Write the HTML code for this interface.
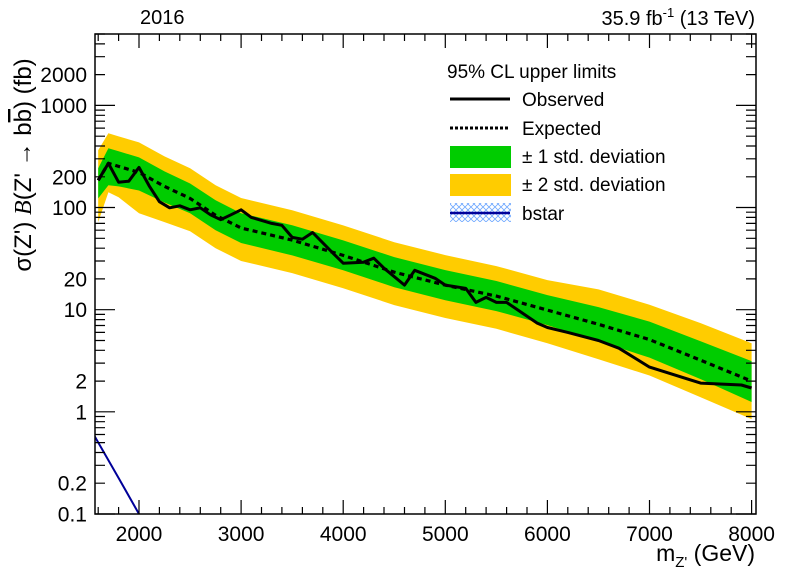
<!DOCTYPE html>
<html><head><meta charset="utf-8"><style>
html,body{margin:0;padding:0;background:#fff;}
svg{display:block;font-family:"Liberation Sans",sans-serif;}
</style></head><body>
<svg id="c" width="796" height="572" viewBox="0 0 796 572">
<defs>
<pattern id="hatch" width="6" height="6" patternUnits="userSpaceOnUse">
<path d="M0,0 L6,6 M6,0 L0,6" stroke="#6fa8ff" stroke-width="0.8"/>
</pattern>
<clipPath id="plotclip"><rect x="95" y="34" width="661" height="480"/></clipPath>
</defs>
<g id="bands" clip-path="url(#plotclip)"></g>
<g id="axes"></g>
<text x="140" y="24" font-size="20">2016</text>
<text x="755" y="25" font-size="20" text-anchor="end">35.9 fb<tspan dy="-8" font-size="13">-1</tspan><tspan dy="8">  (13 TeV)</tspan></text>
<text x="755" y="561" font-size="23" text-anchor="end">m<tspan dy="6" font-size="15">Z'</tspan><tspan dy="-6"> (GeV)</tspan></text>
<text transform="translate(31,165) rotate(-90)" font-size="24" text-anchor="middle">σ(Z')  <tspan font-family="Liberation Serif" font-style="italic">B</tspan>(Z' → b<tspan text-decoration="overline">b</tspan>) (fb)</text>
<g>
<text x="447" y="78" font-size="19">95% CL upper limits</text>
<line x1="450" y1="99" x2="510" y2="99" stroke="#000" stroke-width="3"/>
<text x="522" y="106" font-size="19">Observed</text>
<line x1="450" y1="128" x2="510" y2="128" stroke="#000" stroke-width="3" stroke-dasharray="3,2"/>
<text x="522" y="135" font-size="19">Expected</text>
<rect x="450" y="146" width="61" height="22" fill="#00cc00"/>
<text x="522" y="163" font-size="19">± 1 std. deviation</text>
<rect x="450" y="174" width="61" height="22" fill="#ffcc00"/>
<text x="522" y="191" font-size="19">± 2 std. deviation</text>
<rect x="450" y="203" width="61" height="19" fill="url(#hatch)"/>
<line x1="450" y1="213" x2="510" y2="213" stroke="#000099" stroke-width="2.5"/>
<text x="522" y="220" font-size="19">bstar</text>
</g>
</svg>
<script>
const expMass=[1600,1700,1800,2000,2250,2500,2750,3000,3500,4000,4500,5000,5500,6000,6500,7000,7500,8000];
const expVal=[185,271,253,221,161,123,84,63,48,34,23.3,17.4,13.6,9.9,7.2,5.1,3.2,2.0];
const plus1=[242,380,355,310,226,172,118,88,67,47.7,32.7,24.4,19.1,13.9,10.6,7.65,4.9,3.14];
const minus1=[123,165,161,147,112,88,60,45,34,24.3,16.6,12.4,9.7,7.06,4.9,3.4,2.09,1.25];
const plus2=[364,533,497,434,317,242,165,124,94,66.8,45.8,34.2,26.7,19.5,15.8,11.2,7.4,4.7];
const minus2=[72,141,126,88,72,58.5,40,30,22.8,16.2,11.1,8.3,6.5,4.7,3.27,2.27,1.39,0.85];
const obsMass=[1600,1700,1800,1900,2000,2100,2200,2300,2400,2500,2600,2700,2800,2900,3000,3100,3300,3400,3500,3600,3700,3900,4000,4200,4300,4400,4600,4700,4900,5000,5200,5300,5400,5500,5600,5900,6000,6200,6500,6700,7000,7500,7900,8000];
const obsVal=[185,271,177,181,247,163,114,99.5,104,95,99.5,85,76,85,95,80,70,67,51,49,57,35.7,28.5,29.2,31.9,25.5,17.4,24.3,20.3,17.4,16.2,11.8,13.2,11.8,11.8,7.4,6.7,6.0,5.0,4.2,2.74,1.91,1.83,1.71];
const bstarMass=[1560,1800,2000,2100];
const bstarVal=[0.59,0.225,0.1,0.065];
const xTicks=[2000,3000,4000,5000,6000,7000,8000];
const yTickLabels=["0.1","0.2","1","2","10","20","100","200","1000","2000"];

const X0=95,X1=756,Y0=514,Y1=34,XMIN=1569,XMAX=8043,YMIN=0.1,YMAX=5000;
function sx(m){return X0+(m-XMIN)/(XMAX-XMIN)*(X1-X0);}
function sy(v){return Y0-(Math.log10(v)-Math.log10(YMIN))/(Math.log10(YMAX)-Math.log10(YMIN))*(Y0-Y1);}
const NS="http://www.w3.org/2000/svg";
const bands=document.getElementById('bands'),axes=document.getElementById('axes');
function band(up,dn,col,name){
  let d="";
  expMass.forEach((m,i)=>{d+=(i?"L":"M")+sx(m).toFixed(1)+","+sy(up[i]).toFixed(1);});
  for(let i=expMass.length-1;i>=0;i--)d+="L"+sx(expMass[i]).toFixed(1)+","+sy(dn[i]).toFixed(1);
  const p=document.createElementNS(NS,'path');p.setAttribute('d',d+"Z");p.setAttribute('fill',col);
  
  
  bands.appendChild(p);
}
function line(ms,vs,col,w,dash,name){
  const p=document.createElementNS(NS,'polyline');
  p.setAttribute('points',ms.map((m,i)=>sx(m).toFixed(1)+","+sy(vs[i]).toFixed(1)).join(" "));
  p.setAttribute('fill','none');p.setAttribute('stroke',col);p.setAttribute('stroke-width',w);
  p.setAttribute('stroke-linejoin','round');
  if(dash)p.setAttribute('stroke-dasharray',dash);
  
  
  bands.appendChild(p);
}
band(plus2,minus2,'#ffcc00','band-2sigma');
band(plus1,minus1,'#00cc00','band-1sigma');
line(expMass,expVal,'#000',3.2,'5,4','expected-line');
line(obsMass,obsVal,'#000',3,null,'observed-line');
line(bstarMass,bstarVal,'#000099',2,null,'bstar-line');

function add(tag,attrs,parent){const e=document.createElementNS(NS,tag);for(const k in attrs)e.setAttribute(k,attrs[k]);(parent||axes).appendChild(e);return e;}
const frame=add('rect',{x:X0,y:Y1,width:X1-X0,height:Y0-Y1,fill:'none',stroke:'#000','stroke-width':1.5});


let td="";
for(let m=1600;m<=8000;m+=200){const x=sx(m).toFixed(1);const L=(m%1000===0)?14:7;td+=`M${x},${Y0}v${-L}M${x},${Y1}v${L}`;}
for(let e=-1;e<=3;e++){for(let k=1;k<=9;k++){const v=k*Math.pow(10,e);if(v<YMIN||v>YMAX)continue;const y=sy(v).toFixed(1);const L=k===1?20:10;td+=`M${X0},${y}h${L}M${X1},${y}h${-L}`;}}
const ticks=add('path',{d:td,stroke:'#000','stroke-width':1.2,fill:'none'});


xTicks.forEach(m=>{const t=add('text',{x:sx(m),y:541,'font-size':21,'text-anchor':'middle'});t.textContent=m;

});
yTickLabels.forEach(s=>{const t=add('text',{x:87,y:sy(parseFloat(s))+7.5,'font-size':21,'text-anchor':'end'});t.textContent=s;

});
</script>
</body></html>
